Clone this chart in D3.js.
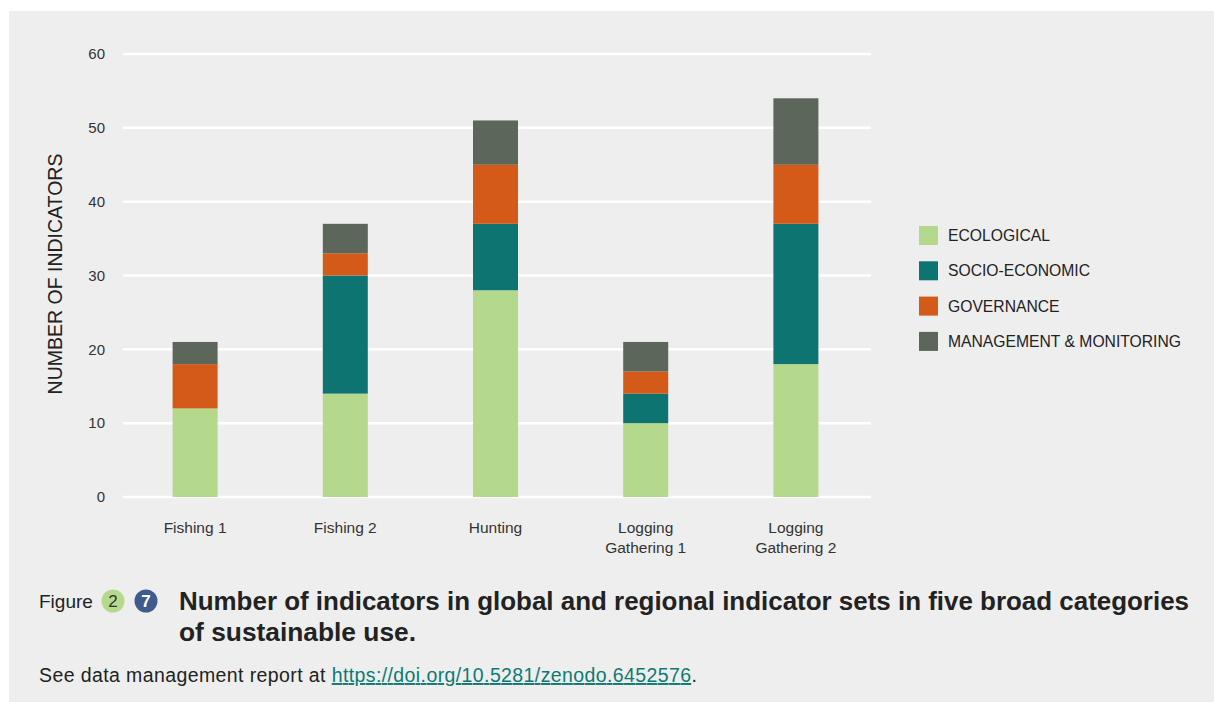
<!DOCTYPE html>
<html>
<head>
<meta charset="utf-8">
<script src="https://cdn.jsdelivr.net/npm/d3@7"></script>
<style>
  html, body { margin: 0; padding: 0; background: #ffffff; }
  svg { display: block; font-family: "Liberation Sans", Arial, Helvetica, sans-serif; }
</style>
</head>
<body>
<svg id="chart" width="1214" height="702"></svg>
<script>
// ---- data ----
const categories = ["Fishing 1", "Fishing 2", "Hunting", "Logging Gathering 1", "Logging Gathering 2"];
const categoryLines = [["Fishing 1"], ["Fishing 2"], ["Hunting"], ["Logging", "Gathering 1"], ["Logging", "Gathering 2"]];
const seriesNames = ["ECOLOGICAL", "SOCIO-ECONOMIC", "GOVERNANCE", "MANAGEMENT & MONITORING"];
const ecological = [12, 14, 28, 10, 18];
const socioEconomic = [0, 16, 9, 4, 19];
const governance = [6, 3, 8, 3, 8];
const management = [3, 4, 6, 4, 9];
const yTicks = [0, 10, 20, 30, 40, 50, 60];
const colors = ["#b4d88c", "#0d7471", "#d35a19", "#5c665a"];

const svg = d3.select("#chart");
svg.append("rect").attr("x", 9).attr("y", 11).attr("width", 1205).attr("height", 691).attr("fill", "#eeeeee");

const rows = categories.map((c, i) => ({
  cat: c,
  "ECOLOGICAL": ecological[i],
  "SOCIO-ECONOMIC": socioEconomic[i],
  "GOVERNANCE": governance[i],
  "MANAGEMENT & MONITORING": management[i]
}));
const stacked = d3.stack().keys(seriesNames)(rows);

const x = d3.scaleBand().domain(categories).range([120, 871]).paddingInner(0.7).paddingOuter(0.35);
const y = d3.scaleLinear().domain([0, 60]).range([497, 54]);
const color = d3.scaleOrdinal().domain(seriesNames).range(colors);

// grid
const grid = svg.append("g");
grid.selectAll("line").data(yTicks).join("line")
  .attr("x1", 123).attr("x2", 871)
  .attr("y1", d => y(d)).attr("y2", d => y(d))
  .attr("stroke", "#ffffff").attr("stroke-width", 2.5);

// y axis labels
const yAxis = svg.append("g").attr("transform", "translate(105,0)")
  .call(d3.axisLeft(y).tickValues(yTicks).tickSize(0).tickPadding(0));
yAxis.select(".domain").remove();
yAxis.selectAll("text").attr("font-size", 15).attr("fill", "#333").attr("font-family", "Liberation Sans, Arial, sans-serif");

svg.append("text")
  .attr("transform", "translate(62,274) rotate(-90)")
  .attr("text-anchor", "middle")
  .attr("font-size", 19.5).attr("fill", "#222")
  .text("NUMBER OF INDICATORS");

// bars
const bw = 45;
svg.append("g").selectAll("g").data(stacked).join("g")
  .attr("fill", d => color(d.key))
  .selectAll("rect").data(d => d).join("rect")
  .attr("x", d => x(d.data.cat) + x.bandwidth() / 2 - bw / 2)
  .attr("width", bw)
  .attr("y", d => y(d[1]))
  .attr("height", d => y(d[0]) - y(d[1]));

// x labels
const xl = svg.append("g");
categories.forEach((c, i) => {
  const t = xl.append("text")
    .attr("x", x(c) + x.bandwidth() / 2)
    .attr("y", 533)
    .attr("text-anchor", "middle")
    .attr("font-size", 15.5).attr("fill", "#333");
  categoryLines[i].forEach((ln, j) => {
    t.append("tspan").attr("x", x(c) + x.bandwidth() / 2).attr("dy", j === 0 ? 0 : 20).text(ln);
  });
});

// legend
const lg = svg.append("g").attr("transform", "translate(919,226)");
seriesNames.forEach((s, i) => {
  lg.append("rect").attr("x", 0).attr("y", i * 35.3).attr("width", 19).attr("height", 19).attr("fill", color(s));
  lg.append("text").attr("x", 29).attr("y", i * 35.3 + 15).attr("font-size", 15.7).attr("fill", "#222").text(s);
});

// caption
svg.append("text").attr("x", 39).attr("y", 608).attr("font-size", 19).attr("fill", "#222").text("Figure");
svg.append("circle").attr("cx", 113).attr("cy", 601).attr("r", 11.5).attr("fill", "#b5da8d");
svg.append("text").attr("x", 113).attr("y", 607).attr("text-anchor", "middle").attr("font-size", 17).attr("fill", "#333").text("2");
svg.append("circle").attr("cx", 146).attr("cy", 601).attr("r", 11.5).attr("fill", "#3f5b8d");
svg.append("text").attr("x", 146).attr("y", 607).attr("text-anchor", "middle").attr("font-size", 17).attr("font-weight", "bold").attr("fill", "#fff").text("7");

svg.append("text").attr("x", 179).attr("y", 610).attr("font-size", 25).attr("font-weight", "bold").attr("fill", "#222")
  .attr("textLength", 1010).attr("lengthAdjust", "spacingAndGlyphs")
  .text("Number of indicators in global and regional indicator sets in five broad categories");
svg.append("text").attr("x", 179).attr("y", 641).attr("font-size", 25).attr("font-weight", "bold").attr("fill", "#222")
  .attr("textLength", 237).attr("lengthAdjust", "spacingAndGlyphs")
  .text("of sustainable use.");

const note = svg.append("text").attr("x", 39).attr("y", 682).attr("font-size", 19.5).attr("fill", "#222")
  .attr("textLength", 658).attr("lengthAdjust", "spacing");
note.append("tspan").text("See data management report at ");
note.append("tspan").attr("fill", "#0e7a74").attr("text-decoration", "underline").text("https://doi.org/10.5281/zenodo.6452576");
note.append("tspan").text(".");
</script>
</body>
</html>
